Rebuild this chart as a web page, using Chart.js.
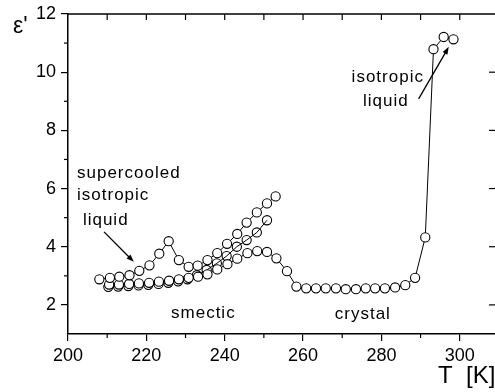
<!DOCTYPE html>
<html>
<head>
<meta charset="utf-8">
<script src="https://cdn.jsdelivr.net/npm/chart.js@4.4.0/dist/chart.umd.min.js"></script>
<style>
  html, body { margin: 0; padding: 0; background: #fff; }
</style>
</head>
<body>
<canvas id="myChart" width="495" height="392"></canvas>
<script>
// tick labels
const xTicks = [200, 220, 240, 260, 280, 300];
const yTicks = [2, 4, 6, 8, 10, 12];

// supercooled isotropic liquid branch (upper row)
const upperT = [208.0, 210.7, 213.1, 215.7, 218.2, 220.8, 223.3, 225.7, 228.3, 230.8, 233.1, 235.6, 238.1, 240.6, 243.2, 245.6, 248.2, 250.8, 253.0];
const upperE = [2.88, 2.93, 2.97, 3.02, 3.17, 3.36, 3.76, 4.19, 3.54, 3.31, 3.35, 3.54, 3.78, 4.10, 4.44, 4.83, 5.18, 5.49, 5.73];

// smectic branch (open circles with line through)
const midT = [210.3, 212.8, 215.4, 218.0, 220.5, 223.1, 225.6, 228.1, 230.5, 232.9, 235.4, 238.0, 240.5, 243.1, 245.6, 248.2, 250.8];
const midE = [2.62, 2.63, 2.65, 2.67, 2.69, 2.72, 2.76, 2.81, 2.88, 3.02, 3.20, 3.43, 3.68, 4.00, 4.23, 4.49, 4.91];

// smectic -> crystal -> isotropic liquid
const lowT = [210.5, 213.0, 215.6, 218.1, 220.7, 223.2, 225.8, 228.3, 230.8, 233.2, 235.6, 238.1, 240.7, 243.2, 245.8, 248.3, 250.8, 253.2, 255.9, 258.3, 260.8, 263.3, 265.8, 268.4, 270.9, 273.5, 276.0, 278.4, 280.9, 283.5, 286.1, 288.6, 291.2, 293.3, 295.9, 298.4];
const lowE = [2.70, 2.70, 2.72, 2.74, 2.76, 2.80, 2.83, 2.88, 2.93, 2.97, 3.05, 3.22, 3.40, 3.59, 3.78, 3.85, 3.82, 3.60, 3.16, 2.63, 2.57, 2.57, 2.57, 2.57, 2.54, 2.54, 2.57, 2.57, 2.57, 2.60, 2.68, 2.93, 4.32, 10.79, 11.21, 11.13];

// annotations (data units: T, eps', left edge / baseline)
const labels = [
  { text: "supercooled", t: 202.3, e: 6.36 },
  { text: "isotropic", t: 202.3, e: 5.61 },
  { text: "liquid", t: 203.8, e: 4.75 },
  { text: "smectic", t: 226.3, e: 1.55 },
  { text: "crystal", t: 268.1, e: 1.52 },
  { text: "isotropic", t: 272.4, e: 9.66 },
  { text: "liquid", t: 275.3, e: 8.84 }
];
const arrows = [
  { from: [209.2, 4.51], to: [216.8, 3.48] },
  { from: [289.5, 9.08], to: [297.2, 10.87] }
];

const FONT = '"Liberation Sans", Arial, sans-serif';

const toXY = (ts, es) => ts.map((t, i) => ({ x: t, y: es[i] }));

const decor = {
  id: "decor",
  afterDraw(chart) {
    const { ctx, chartArea: a, scales: { x, y } } = chart;
    ctx.save();
    ctx.strokeStyle = "#000";
    ctx.fillStyle = "#000";
    ctx.lineWidth = 1.2;
    const seg = (x1, y1, x2, y2) => { ctx.beginPath(); ctx.moveTo(x1, y1); ctx.lineTo(x2, y2); ctx.stroke(); };

    // top frame + inward ticks
    ctx.lineWidth = 1.5;
    seg(a.left, a.top, chart.width, a.top);
    ctx.lineWidth = 1.2;
    for (let t = 210; t <= 300; t += 10) {
      const px = x.getPixelForValue(t);
      seg(px, a.top, px, a.top + 6);
    }
    // bottom minor ticks
    for (let t = 210; t <= 300; t += 20) {
      const px = x.getPixelForValue(t);
      seg(px, a.bottom, px, a.bottom + 4);
    }
    // left minor ticks
    for (let v = 3; v <= 11; v += 2) {
      const py = y.getPixelForValue(v);
      seg(a.left - 4, py, a.left, py);
    }
    // right inward ticks
    for (let v = 2; v <= 10; v += 2) {
      const py = y.getPixelForValue(v);
      seg(a.right - 6, py, a.right, py);
    }

    // arrows
    ctx.lineWidth = 1.3;
    arrows.forEach(ar => {
      const x1 = x.getPixelForValue(ar.from[0]), y1 = y.getPixelForValue(ar.from[1]);
      const x2 = x.getPixelForValue(ar.to[0]), y2 = y.getPixelForValue(ar.to[1]);
      const ang = Math.atan2(y2 - y1, x2 - x1);
      seg(x1, y1, x2 - 4 * Math.cos(ang), y2 - 4 * Math.sin(ang));
      ctx.beginPath();
      ctx.moveTo(x2, y2);
      ctx.lineTo(x2 - 8 * Math.cos(ang - 0.35), y2 - 8 * Math.sin(ang - 0.35));
      ctx.lineTo(x2 - 8 * Math.cos(ang + 0.35), y2 - 8 * Math.sin(ang + 0.35));
      ctx.closePath();
      ctx.fill();
    });

    // text labels
    ctx.font = "17px " + FONT;
    ctx.letterSpacing = "1px";
    ctx.textAlign = "left";
    ctx.textBaseline = "alphabetic";
    labels.forEach(l => {
      ctx.fillText(l.text, x.getPixelForValue(l.t), y.getPixelForValue(l.e));
    });

    // axis titles
    ctx.letterSpacing = "0px";
    ctx.font = "23px " + FONT;
    ctx.fillText("\u03b5'", 13, 33);
    ctx.font = "24px " + FONT;
    ctx.fillText("T  [K]", 438, 383);
    ctx.restore();
  }
};

const pointStyle = {
  showLine: true,
  borderColor: "#000",
  borderWidth: 1,
  pointRadius: 4.6,
  pointBorderWidth: 1.1,
  pointBorderColor: "#000",
  tension: 0
};

new Chart(document.getElementById("myChart").getContext("2d"), {
  type: "scatter",
  data: {
    datasets: [
      Object.assign({ data: toXY(upperT, upperE), pointBackgroundColor: "#fff" }, pointStyle),
      Object.assign({ data: toXY(lowT, lowE), pointBackgroundColor: "#fff" }, pointStyle),
      Object.assign({ data: toXY(midT, midE), pointBackgroundColor: "rgba(255,255,255,0)" }, pointStyle)
    ]
  },
  options: {
    responsive: false,
    animation: false,
    devicePixelRatio: 1,
    layout: { autoPadding: false, padding: { top: 14, left: 0, right: 0, bottom: 0 } },
    plugins: { legend: { display: false }, tooltip: { enabled: false } },
    scales: {
      x: {
        type: "linear",
        min: 200,
        max: 309,
        afterBuildTicks: s => { s.ticks = xTicks.map(v => ({ value: v })); },
        afterFit: s => { s.height = 58; s.paddingLeft = 0; s.paddingRight = 0; },
        grid: { drawOnChartArea: false, drawTicks: true, tickLength: 7, color: "#000", lineWidth: 1.2 },
        border: { color: "#000", width: 1.5 },
        ticks: { color: "#000", font: { size: 18, family: FONT }, padding: 4, maxRotation: 0 }
      },
      y: {
        type: "linear",
        min: 1,
        max: 12,
        afterBuildTicks: s => { s.ticks = yTicks.map(v => ({ value: v })); },
        afterFit: s => { s.width = 68; s.paddingTop = 0; s.paddingBottom = 0; },
        grid: { drawOnChartArea: false, drawTicks: true, tickLength: 7, color: "#000", lineWidth: 1.2 },
        border: { color: "#000", width: 1.5 },
        ticks: { color: "#000", font: { size: 18, family: FONT }, padding: 5 }
      }
    }
  },
  plugins: [decor]
});
</script>
</body>
</html>
